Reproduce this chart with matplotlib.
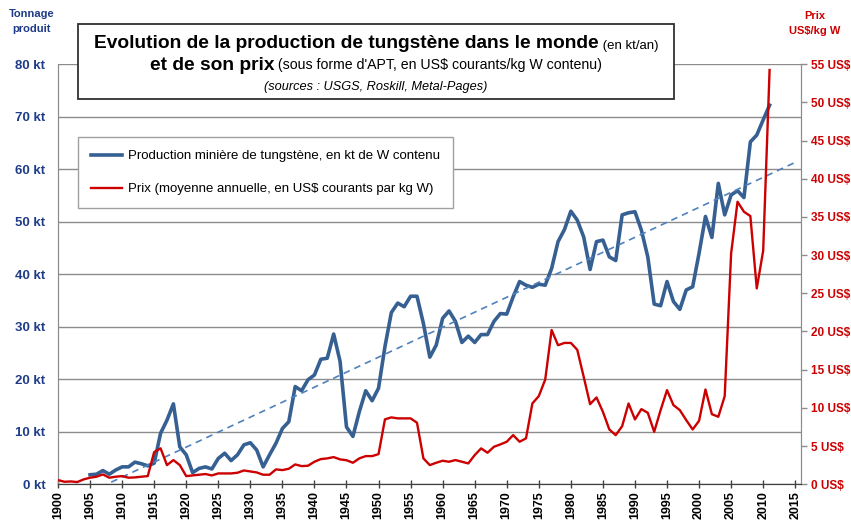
# tungsten: world production (kt/yr) and APT price (US$/kg W), 1900-2011
import numpy as np
import matplotlib
matplotlib.use("Agg")
import matplotlib.pyplot as plt
from matplotlib.patches import Rectangle
from matplotlib.lines import Line2D

plt.rcParams['font.family'] = ['Liberation Sans', 'DejaVu Sans']

# production, kt W contenu, 1905..2011
prod_years = list(range(1905, 2012))
prod_kt = [1.8, 1.9, 2.6, 1.9, 2.7, 3.3, 3.3, 4.2, 3.9, 3.5,
           4.0, 9.7, 12.2, 15.3, 7.1, 5.6, 2.2, 3.0, 3.3, 2.9,
           4.9, 5.9, 4.5, 5.6, 7.5, 7.9, 6.5, 3.3, 5.6, 7.8,
           10.6, 11.9, 18.6, 17.8, 19.9, 20.8, 23.8, 24.0, 28.6, 23.4,
           10.9, 9.1, 13.8, 17.8, 15.9, 18.3, 26.2, 32.7, 34.5, 33.8,
           35.8, 35.8, 30.6, 24.2, 26.5, 31.6, 33.0, 31.0, 27.0, 28.2,
           27.0, 28.5, 28.5, 31.0, 32.5, 32.4, 35.7, 38.6, 37.9, 37.5,
           38.1, 37.9, 41.1, 46.2, 48.5, 52.0, 50.3, 47.1, 40.9, 46.2,
           46.5, 43.3, 42.6, 51.3, 51.7, 51.9, 48.4, 43.3, 34.3, 34.0,
           38.6, 34.8, 33.3, 37.0, 37.6, 44.0, 51.0, 47.0, 57.3, 51.3,
           55.1, 55.9, 54.6, 65.2, 66.5, 69.4, 72.2]

# prix moyen annuel, US$ courants / kg W, 1900..2011
price_years = list(range(1900, 2012))
price_usd = [0.54, 0.32, 0.36, 0.28, 0.63, 0.85, 0.98, 1.28, 0.85, 0.98,
             1.06, 0.85, 0.89, 0.98, 1.06, 4.2, 4.7, 2.5, 3.16, 2.5,
             1.06, 1.15, 1.24, 1.33, 1.15, 1.41, 1.41, 1.41, 1.5, 1.8,
             1.67, 1.54, 1.24, 1.24, 1.94, 1.85, 2.02, 2.59, 2.37, 2.42,
             2.94, 3.29, 3.38, 3.55, 3.25, 3.14, 2.81, 3.38, 3.68, 3.68,
             3.94, 8.49, 8.75, 8.62, 8.62, 8.62, 8.05, 3.38, 2.5, 2.81,
             3.07, 2.94, 3.16, 2.94, 2.72, 3.81, 4.69, 4.12, 4.9, 5.21,
             5.56, 6.43, 5.56, 6.0, 10.58, 11.54, 13.7, 20.19, 18.2, 18.5,
             18.5, 17.6, 14.07, 10.48, 11.36, 9.48, 7.17, 6.42, 7.6, 10.57,
             8.48, 9.83, 9.35, 6.86, 9.7, 12.32, 10.36, 9.7, 8.39, 7.17,
             8.3, 12.4, 9.17, 8.83, 11.53, 30.22, 36.99, 35.68, 35.11, 25.64,
             30.57, 54.24]

# linear trendline (dashed), forecast up to 2015
trend_years = [1905, 2015]
trend_kt = [-1.5, 61.3]

kt_ticks = list(range(0, 81, 10))
usd_ticks = list(range(0, 56, 5))
year_ticks = list(range(1900, 2016, 5))

blue = '#376092'
red = '#CC0000'
navy = '#1F3C88'
grid = '#8C8C8C'

W, H = 851, 522
fig = plt.figure(figsize=(W / 100, H / 100), dpi=100)
ax = fig.add_axes([58 / W, 1 - 484.2 / H, (801 - 58) / W, 420 / H])
ax2 = ax.twinx()

ax.plot(prod_years, prod_kt, color=blue, lw=2.6, solid_joinstyle='round', zorder=3)
ax.plot(trend_years, trend_kt, color='#4F81BD', lw=1.2, ls=(0, (4, 3)), zorder=4)
ax2.plot(price_years, price_usd, color=red, lw=1.7, solid_joinstyle='round', zorder=3)

ax.set_xlim(1900, 2015.9)
ax.set_ylim(0, 80)
ax2.set_ylim(0, 55)

ax.set_yticks(kt_ticks)
ax.set_yticklabels([f'{v} kt' for v in kt_ticks])
ax2.set_yticks(usd_ticks)
ax2.set_yticklabels([f'{v} US$' for v in usd_ticks])
ax.set_xticks(year_ticks)
ax.set_xticklabels([str(y) for y in year_ticks], rotation=90)

ax.yaxis.grid(True, color=grid, lw=1.0)
ax.set_axisbelow(True)
ax.tick_params(axis='y', length=0, pad=9, labelsize=9.5, labelcolor=navy)
ax.tick_params(axis='x', direction='inout', length=6, width=1, color='#404040',
               pad=2, labelsize=9)
for lab in ax.get_yticklabels() + ax.get_xticklabels():
    lab.set_fontweight('bold')
ax2.tick_params(axis='y', length=4, width=1, color=grid, pad=3,
                labelsize=8.5, labelcolor=red)
for lab in ax2.get_yticklabels():
    lab.set_fontweight('bold')

for a in (ax, ax2):
    a.spines['top'].set_visible(False)
    a.spines['left'].set_color(grid)
    a.spines['right'].set_color(grid)
    a.spines['bottom'].set_color('#404040')

# axis captions
fig.text(32 / W, 1 - 14 / H, 'Tonnage', ha='center', va='center',
         fontsize=8, fontweight='bold', color=navy)
fig.text(32 / W, 1 - 29 / H, 'produit', ha='center', va='center',
         fontsize=8, fontweight='bold', color=navy)
fig.text(815 / W, 1 - 16 / H, 'Prix', ha='center', va='center',
         fontsize=8, fontweight='bold', color=red)
fig.text(815 / W, 1 - 31 / H, 'US$/kg W', ha='center', va='center',
         fontsize=8, fontweight='bold', color=red)

# title box
fig.patches.append(Rectangle((78 / W, 1 - 99 / H), (674 - 78) / W, 75 / H,
                             transform=fig.transFigure, facecolor='white',
                             edgecolor='#303030', lw=1.3, zorder=5))


def rich_line(parts, ybase, xc):
    texts = [fig.text(0, ybase, s, va='baseline', zorder=6, **kw) for s, kw in parts]
    fig.canvas.draw()
    r = fig.canvas.get_renderer()
    widths = [t.get_window_extent(r).width for t in texts]
    x = xc * W - sum(widths) / 2
    for t, w in zip(texts, widths):
        t.set_x(x / W)
        x += w


xc = 376 / W
rich_line([('Evolution de la production de tungstène dans le monde',
            dict(fontsize=13.8, fontweight='bold')),
           (' (en kt/an)', dict(fontsize=9.5))], 1 - 48.5 / H, xc)
rich_line([('et de son prix', dict(fontsize=13.8, fontweight='bold')),
           (" (sous forme d'APT, en US$ courants/kg W contenu)", dict(fontsize=10.2))],
          1 - 69.5 / H, xc)
rich_line([('(sources : USGS, Roskill, Metal-Pages)',
            dict(fontsize=9.2, style='italic'))], 1 - 90 / H, xc)

# legend
handles = [Line2D([], [], color=blue, lw=2.6), Line2D([], [], color=red, lw=1.7)]
labels = ['Production minière de tungstène, en kt de W contenu',
          'Prix (moyenne annuelle, en US$ courants par kg W)']
leg = fig.legend(handles, labels, loc='upper left',
                 bbox_to_anchor=(78 / W, 1 - 137 / H), fontsize=9.5,
                 frameon=True, fancybox=False, edgecolor='#A0A0A0',
                 framealpha=1, borderpad=1.0, labelspacing=1.55,
                 handlelength=2.3, handletextpad=0.5, borderaxespad=0)
leg.get_frame().set_linewidth(1.0)

fig.savefig('out.png', dpi=100)
